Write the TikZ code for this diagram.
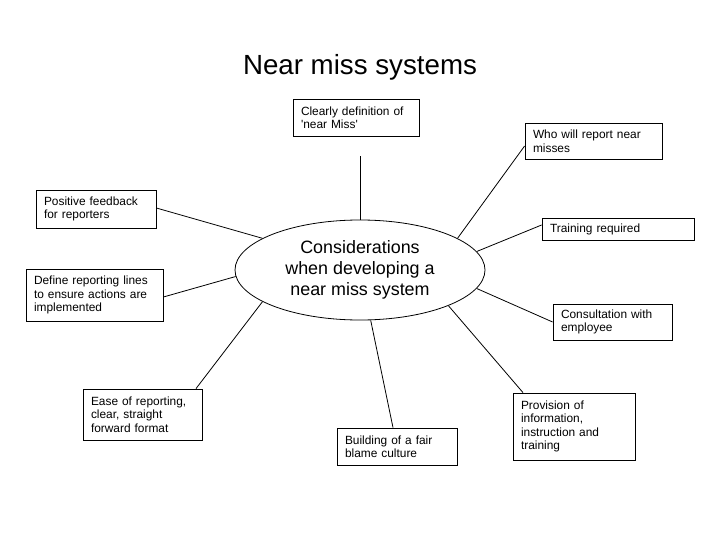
\documentclass[tikz,border=0pt]{standalone}
\usepackage{fontspec}
\newfontfamily\arialf{Liberation Sans}
\usetikzlibrary{shapes.geometric}
\tikzset{
  box/.style={draw, line width=0.8pt, rectangle, inner xsep=8pt, inner ysep=0pt, align=left,
    font=\arialf\fontsize{11.9}{13.5}\selectfont},
  conn/.style={line width=0.8pt},
  centre/.style={ellipse, draw, line width=0.8pt, minimum width=250pt, minimum height=100pt,
    inner sep=0pt, align=center, font=\arialf\fontsize{17.9}{21}\selectfont},
  titlestyle/.style={font=\arialf\fontsize{27.7}{33}\selectfont, anchor=base, inner sep=0pt}
}
\begin{document}
\begin{tikzpicture}[x=1pt,y=-1pt]
\useasboundingbox (0,0) rectangle (720,540);
\fill[white] (0,0) rectangle (720,540);

\node[titlestyle] (title) at (360,75) {Near miss systems};

\node[centre] (ell) at (360,270) {Considerations\\when developing a\\near miss system};

\node[box, minimum width=126pt, text width=110pt, minimum height=37pt] (clear) at (356,117.5) {Clearly definition of\\'near Miss'};
\node[box, minimum width=137pt, text width=121pt, minimum height=36pt] (who) at (593.5,141) {Who will report near\\misses};
\node[box, minimum width=120pt, text width=104pt, minimum height=38pt] (pos) at (96,209) {Positive feedback\\for reporters};
\node[box, minimum width=152pt, text width=136pt, minimum height=22pt] (train) at (618,229) {Training required};
\node[box, minimum width=137pt, text width=121pt, minimum height=52pt] (define) at (94.5,295) {Define reporting lines\\to ensure actions are\\implemented};
\node[box, minimum width=119pt, text width=103pt, minimum height=36pt] (consult) at (612.5,322) {Consultation with\\employee};
\node[box, minimum width=119pt, text width=103pt, minimum height=51pt] (ease) at (142.5,414.5) {Ease of reporting,\\clear, straight\\forward format};
\node[box, minimum width=120pt, text width=104pt, minimum height=37pt] (build) at (397,446.5) {Building of a fair\\blame culture};
\node[box, minimum width=122pt, text width=106pt, minimum height=67pt] (prov) at (574,426.5) {Provision of\\information,\\instruction and\\training};

\draw[conn] ([xshift=4pt,yshift=-20pt]clear.south) -- (ell.90);
\draw[conn] (ell.18.4) -- ([yshift=-5pt]who.west);
\draw[conn] (ell.9.5) -- ([yshift=4pt]train.west);
\draw[conn] (ell.162) -- ([yshift=1pt]pos.east);
\draw[conn] (ell.183.2) -- ([yshift=-2pt]define.east);
\draw[conn] (ell.198.3) -- ([xshift=53.5pt]ease.north);
\draw[conn] (ell.282.4) -- ([xshift=-4pt]build.north);
\draw[conn] (ell.351.4) -- (consult.west);
\draw[conn] (ell.338) -- ([xshift=-51pt]prov.north);
\end{tikzpicture}
\end{document}
